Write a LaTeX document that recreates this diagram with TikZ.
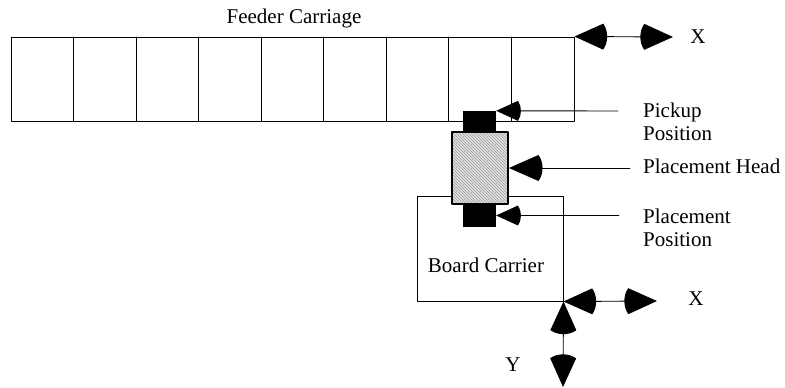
\documentclass[tikz,border=0pt]{standalone}
\usepackage{fontspec}
\setmainfont{Liberation Serif}
\usetikzlibrary{arrows.meta}
\usetikzlibrary{patterns}
\usetikzlibrary{positioning}

% arrow tip with a rounded back
\pgfdeclarearrow{
  name = Bulb,
  defaults = {length = 33pt, width = 26pt},
  setup code = {
    \pgfarrowssettipend{0pt}
    \pgfarrowssetlineend{-.5\pgfarrowlength}
    \pgfarrowssetbackend{-\pgfarrowlength}
    \pgfarrowssavethe\pgfarrowlength
    \pgfarrowssavethe\pgfarrowwidth
  },
  drawing code = {
    \pgfpathmoveto{\pgfqpoint{0pt}{0pt}}
    \pgfpathlineto{\pgfqpoint{-.87\pgfarrowlength}{.5\pgfarrowwidth}}
    \pgfpathcurveto{\pgfqpoint{-1.03\pgfarrowlength}{.22\pgfarrowwidth}}{\pgfqpoint{-1.03\pgfarrowlength}{-.22\pgfarrowwidth}}{\pgfqpoint{-.87\pgfarrowlength}{-.5\pgfarrowwidth}}
    \pgfpathclose
    \pgfusepathqfill
  },
  parameters = {\the\pgfarrowlength,\the\pgfarrowwidth},
}

\begin{document}
\begin{tikzpicture}[line cap=round,line join=round,x=1pt,y=-1pt,
  frame/.style={draw,line width=1pt,inner sep=0pt},
  block/.style={fill=black,inner sep=0pt,minimum width=33,minimum height=#1},
  headbox/.style={draw,line width=1.8pt,inner sep=0pt,minimum width=56,minimum height=72,
    preaction={fill=gray!22},pattern=north west lines,pattern color=gray!80},
  lbl/.style={font=\fontsize{21}{23}\selectfont,inner sep=0pt},
  pointer/.style={line width=0.9pt,-{Bulb[length=34pt,width=26pt]}},
  pointersmall/.style={line width=0.9pt,-{Bulb[length=25pt,width=20pt]}},
  travel/.style={line width=0.9pt,{Bulb[length=33pt,width=26pt]}-{Bulb[length=33pt,width=26pt]}}]
\useasboundingbox (0,0) rectangle (785,388);

%feeder carriage
\node[frame,minimum width=563,minimum height=84] (feeder) at (292.5,79) {};
\foreach \x in {1,...,8}
{
\draw[line width=1pt] (11+\x*62.56,37) -- (11+\x*62.56,121);
}
\node[lbl] (feedertext) at (294,18) {Feeder Carriage};

%board carrier
\node[frame,minimum width=146,minimum height=105] (board) at (490,248.5) {};
\node[lbl] (boardtext) at (486,265) {Board Carrier};

%placement head
\node[headbox] (head) at (480,168) {};
\node[block=21] (pickup) at (479.5,121.5) {};
\node[block=23] (place) at (479.5,215.5) {};

%labels
\node[lbl,anchor=west,align=left] (pickuptext) at (643,122) {Pickup\\Position};
\node[lbl,anchor=west] (headtext) at (643,166) {Placement Head};
\node[lbl,anchor=west,align=left] (placetext) at (643,228) {Placement\\Position};
\node[lbl] (xtop) at (698,37) {X};
\node[lbl] (xbottom) at (696,299) {X};
\node[lbl] (ytext) at (513,365) {Y};

%pointers
\coordinate (pickupend) at (618,111);
\coordinate (headend) at (630,168);
\coordinate (placeend) at (619,215.5);
\draw[pointersmall] (pickupend) -- (pickup.north east);
\draw[pointer] (headend) -- (head.east);
\draw[pointersmall] (placeend) -- (place.east);

%travel directions
\coordinate (feederx) at (673,37);
\coordinate (boardx) at (657,301);
\coordinate (boardy) at (563,387);
\draw[travel] (feeder.north east) -- (feederx);
\draw[travel] (board.south east) -- (boardx);
\draw[travel] (board.south east) -- (boardy);
\end{tikzpicture}
\end{document}
